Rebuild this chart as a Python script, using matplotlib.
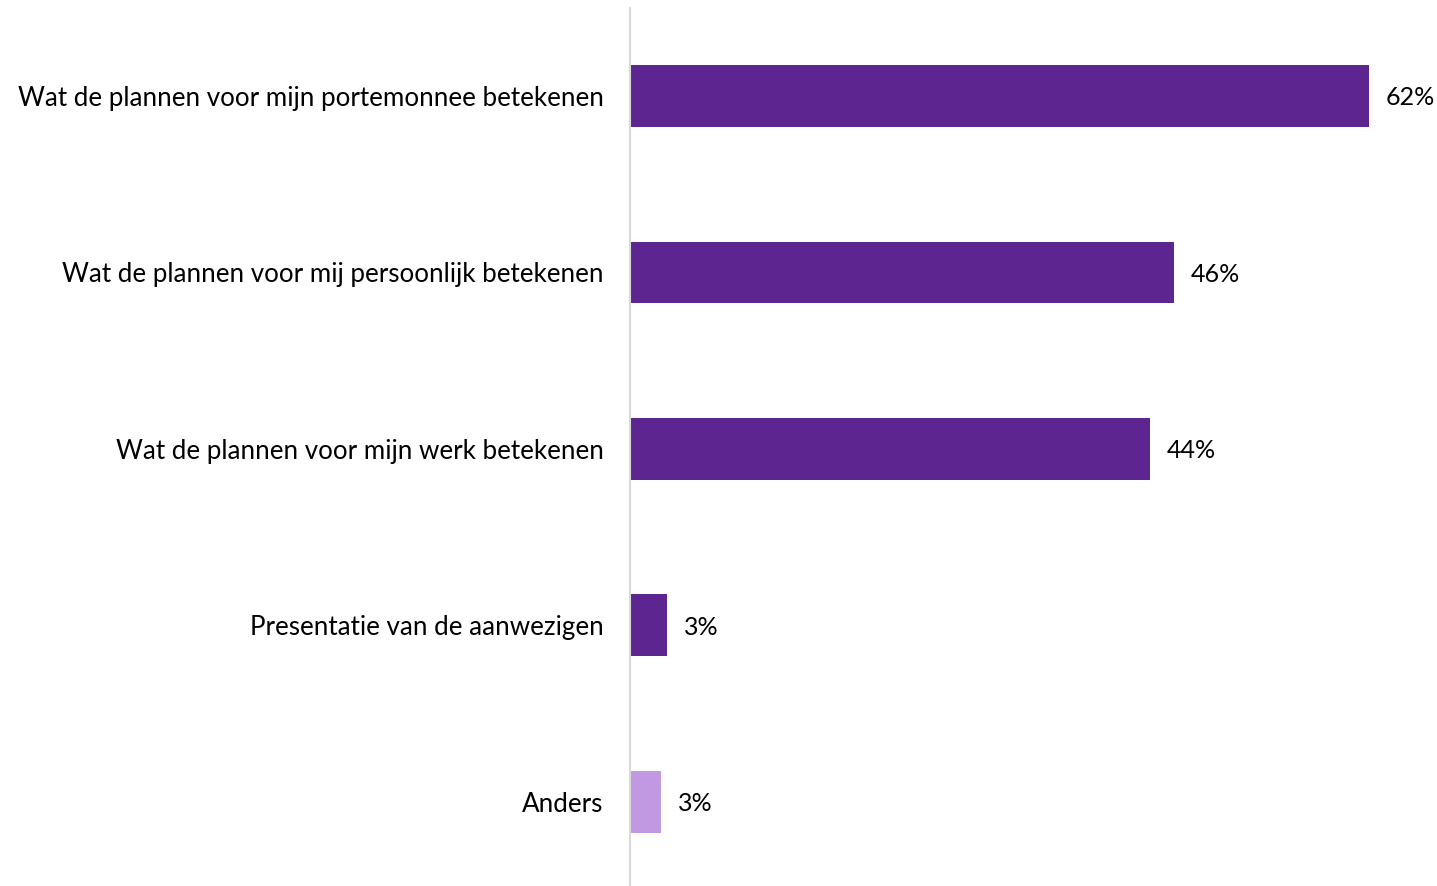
import numpy as np
import matplotlib
matplotlib.use('Agg')
import matplotlib.pyplot as plt

categories = ['Wat de plannen voor mijn portemonnee betekenen',
              'Wat de plannen voor mij persoonlijk betekenen',
              'Wat de plannen voor mijn werk betekenen',
              'Presentatie van de aanwezigen',
              'Anders']
values = [62.0, 45.6, 43.6, 3.1, 2.6]
labels = ['62%', '46%', '44%', '3%', '3%']
colors = ['#5C2590', '#5C2590', '#5C2590', '#5C2590', '#C198E2']

plt.rcParams['font.family'] = ['Lato', 'DejaVu Sans']
fs = 18.7

fig = plt.figure(figsize=(14.37, 8.86), dpi=100)
ax = fig.add_axes([630 / 1437, -4 / 886, 800 / 1437, (886 + 4 - 7.75) / 886])

y = np.arange(len(categories))
ax.barh(y, values, height=0.35, color=colors)
for yi, v, lab in zip(y, values, labels):
    ax.text(v + 1.4, yi, lab, va='center_baseline', ha='left', fontsize=fs - 0.7)

ax.set_yticks(y)
ax.set_yticklabels(categories, fontsize=fs)
ax.set_ylim(len(categories) - 0.5, -0.5)
ax.set_xlim(0, 800 / 11.92)
ax.tick_params(axis='y', length=0, pad=19)
ax.set_xticks([])
for s in ['top', 'right', 'bottom']:
    ax.spines[s].set_visible(False)
ax.spines['left'].set_color('#D9D9D9')
ax.spines['left'].set_linewidth(1.5)

fig.savefig('out.png', dpi=100)
